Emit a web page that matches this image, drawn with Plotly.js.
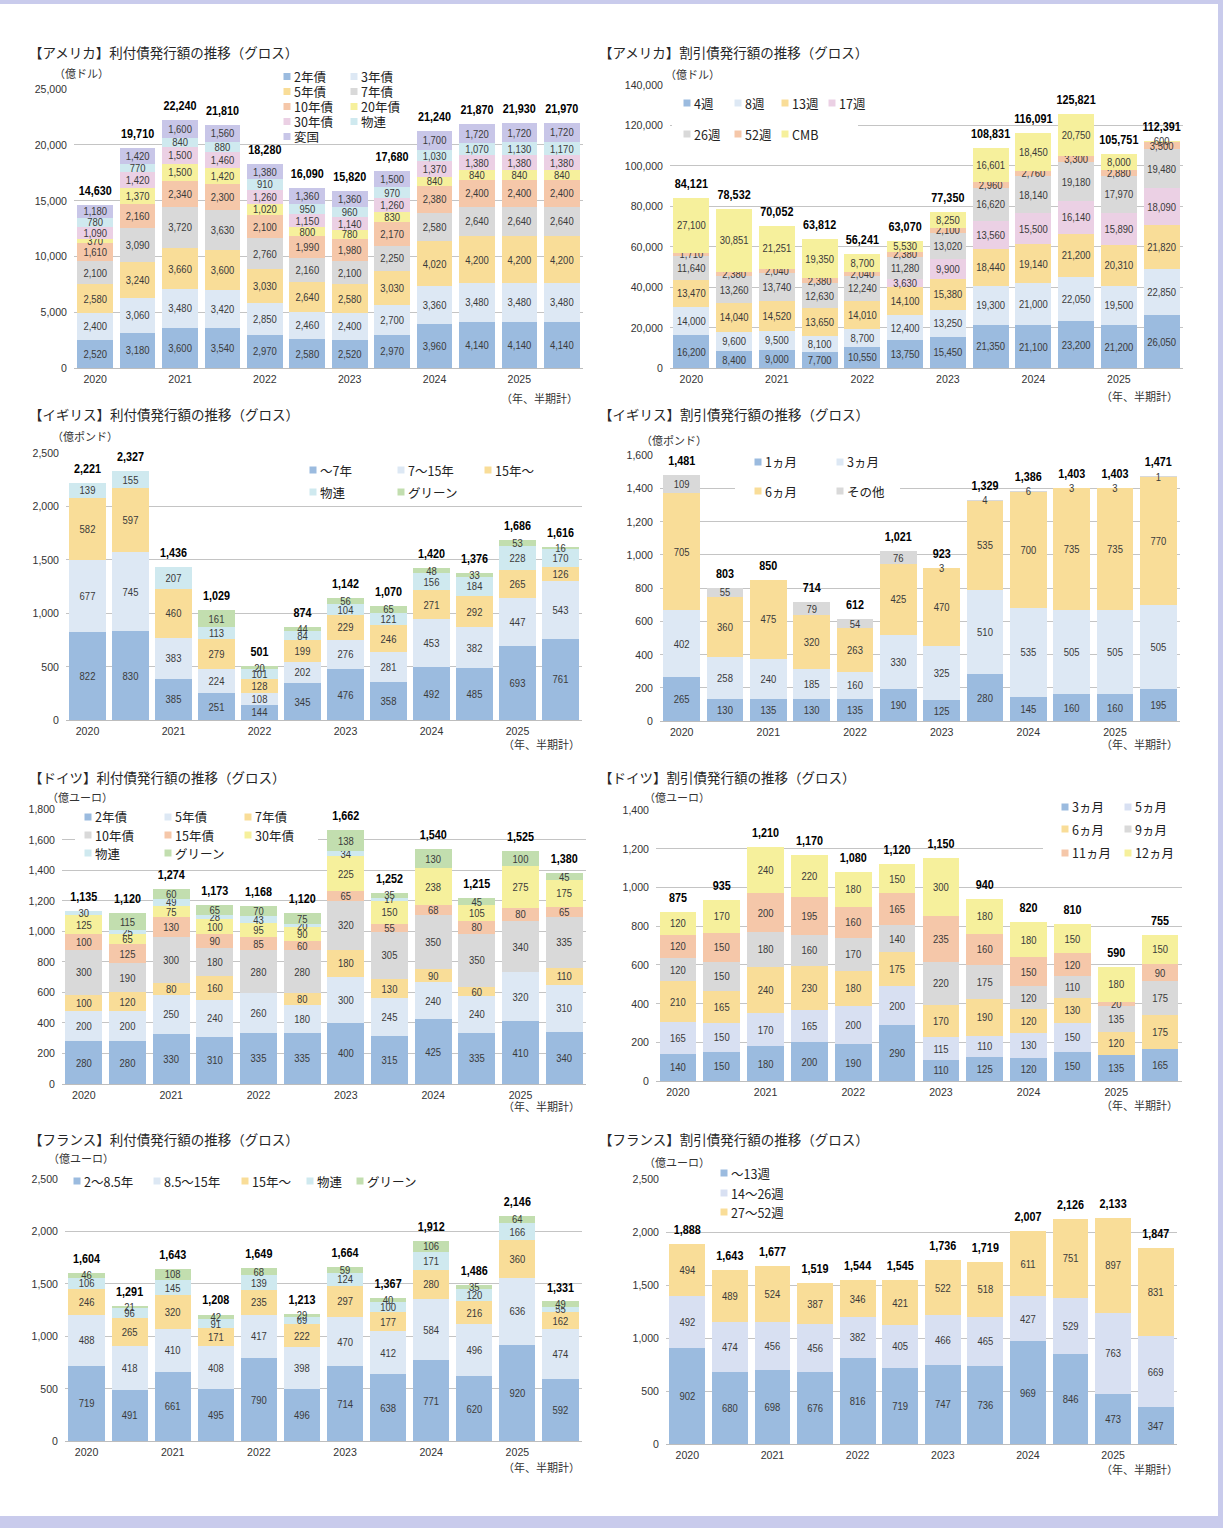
<!DOCTYPE html>
<html><head><meta charset="utf-8">
<script src="https://cdn.plot.ly/plotly-3.0.1.min.js"></script>
<style>
body{margin:0;background:#c9cbec;width:1223px;height:1528px;position:relative;overflow:hidden}
#page{position:absolute;left:0;top:4px;width:1218px;height:1512px;background:#fff}
.pn{position:absolute}
</style></head>
<body><div id="page"></div>
<script>
// ---- categories ----
const periods = ['2020上','2020下','2021上','2021下','2022上','2022下','2023上','2023下','2024上','2024下','2025上','2025下'];
const yearLabels = ['2020','2021','2022','2023','2024','2025'];

// ---- 【アメリカ】利付債 (億ドル) ----
const usCNames = ['2年債','3年債','5年債','7年債','10年債','20年債','30年債','物連','変国'];
const us_c_2y   = [2520,3180,3600,3540,2970,2580,2520,2970,3960,4140,4140,4140];
const us_c_3y   = [2400,3060,3480,3420,2850,2460,2400,2700,3360,3480,3480,3480];
const us_c_5y   = [2580,3240,3660,3600,3030,2640,2580,3030,4020,4200,4200,4200];
const us_c_7y   = [2100,3090,3720,3630,2760,2160,2100,2250,2580,2640,2640,2640];
const us_c_10y  = [1610,2160,2340,2300,2100,1990,1980,2170,2380,2400,2400,2400];
const us_c_20y  = [370,1370,1500,1420,1020,800,780,830,840,840,840,840];
const us_c_30y  = [1090,1420,1500,1460,1260,1150,1140,1260,1370,1380,1380,1380];
const us_c_tips = [780,770,840,880,910,950,960,970,1030,1070,1130,1170];
const us_c_frn  = [1180,1420,1600,1560,1380,1360,1360,1500,1700,1720,1720,1720];
const us_c_total= [14630,19710,22240,21810,18280,16090,15820,17680,21240,21870,21930,21970];

// ---- 【アメリカ】割引債 (億ドル) ----
const usDNames = ['4週','8週','13週','17週','26週','52週','CMB'];
const us_d_4w  = [16200,8400,9000,7700,10550,13750,15450,21350,21100,23200,21200,26050];
const us_d_8w  = [14000,9600,9500,8100,8700,12400,13250,19300,21000,22050,19500,22850];
const us_d_13w = [13470,14040,14520,13650,14010,14100,15380,18440,19140,21200,20310,21820];
const us_d_17w = [null,null,null,null,null,3630,9900,13560,15500,16140,15890,18090];
const us_d_26w = [11640,13260,13740,12630,12240,11280,13020,16620,18140,19180,17970,19480];
const us_d_52w = [1710,2380,2040,2380,2040,2380,2100,2960,2760,3300,2880,3500];
const us_d_cmb = [27100,30851,21251,19350,8700,5530,8250,16601,18450,20750,8000,600];
const us_d_total = [84121,78532,70052,63812,56241,63070,77350,108831,116091,125821,105751,112391];

// ---- 【イギリス】利付債 (億ポンド) ----
const ukCNames = ['～7年','7～15年','15年～','物連','グリーン'];
const uk_c_short = [822,830,385,251,144,345,476,358,492,485,693,761];
const uk_c_mid   = [677,745,383,224,108,202,276,281,453,382,447,543];
const uk_c_long  = [582,597,460,279,128,199,229,246,271,292,265,126];
const uk_c_il    = [139,155,207,113,101,84,104,121,156,184,228,170];
const uk_c_green = [null,null,null,161,20,44,56,65,48,33,53,16];
const uk_c_total = [2221,2327,1436,1029,501,874,1142,1070,1420,1376,1686,1616];

// ---- 【イギリス】割引債 (億ポンド) ----
const ukDNames = ['1ヵ月','3ヵ月','6ヵ月','その他'];
const uk_d_1m    = [265,130,135,130,135,190,125,280,145,160,160,195];
const uk_d_3m    = [402,258,240,185,160,330,325,510,535,505,505,505];
const uk_d_6m    = [705,360,475,320,263,425,470,535,700,735,735,770];
const uk_d_other = [109,55,null,79,54,76,3,4,6,3,3,1];
const uk_d_total = [1481,803,850,714,612,1021,923,1329,1386,1403,1403,1471];

// ---- 【ドイツ】利付債 (億ユーロ) ----
const deCNames = ['2年債','5年債','7年債','10年債','15年債','30年債','物連','グリーン'];
const de_c_2y    = [280,280,330,310,335,335,400,315,425,335,410,340];
const de_c_5y    = [200,200,250,240,260,180,300,245,240,240,320,310];
const de_c_7y    = [100,120,80,160,null,80,180,130,90,60,null,110];
const de_c_10y   = [300,190,300,180,280,280,320,305,350,350,340,335];
const de_c_15y   = [100,125,130,90,85,60,65,55,68,80,80,65];
const de_c_30y   = [125,65,75,100,95,90,225,150,238,105,275,175];
const de_c_il    = [30,25,49,28,43,20,34,17,null,null,null,null];
const de_c_green = [null,115,60,65,70,75,138,35,130,45,100,45];
const de_c_total = [1135,1120,1274,1173,1168,1120,1662,1252,1540,1215,1525,1380];

// ---- 【ドイツ】割引債 (億ユーロ) ----
const deDNames = ['3ヵ月','5ヵ月','6ヵ月','9ヵ月','11ヵ月','12ヵ月'];
const de_d_3m  = [140,150,180,200,190,290,110,125,120,150,135,165];
const de_d_5m  = [165,150,170,165,200,200,115,110,130,150,null,null];
const de_d_6m  = [210,165,240,230,180,175,170,190,120,130,120,175];
const de_d_9m  = [120,150,180,160,170,140,220,175,120,110,135,175];
const de_d_11m = [120,150,200,195,160,165,235,160,150,120,20,90];
const de_d_12m = [120,170,240,220,180,150,300,180,180,150,180,150];
const de_d_total = [875,935,1210,1170,1080,1120,1150,940,820,810,590,755];

// ---- 【フランス】利付債 (億ユーロ) ----
const frCNames = ['2～8.5年','8.5～15年','15年～','物連','グリーン'];
const fr_c_short = [719,491,661,495,790,496,714,638,771,620,920,592];
const fr_c_mid   = [488,418,410,408,417,398,470,412,584,496,636,474];
const fr_c_long  = [246,265,320,171,235,222,297,177,280,216,360,162];
const fr_c_il    = [106,96,145,91,139,69,124,100,171,120,166,55];
const fr_c_green = [46,21,108,42,68,29,59,40,106,35,64,49];
const fr_c_total = [1604,1291,1643,1208,1649,1213,1664,1367,1912,1486,2146,1331];

// ---- 【フランス】割引債 (億ユーロ) ----
const frDNames = ['～13週','14～26週','27～52週'];
const fr_d_13w = [902,680,698,676,816,719,747,736,969,846,473,347];
const fr_d_26w = [492,474,456,456,382,405,466,465,427,529,763,669];
const fr_d_52w = [494,489,524,387,346,421,522,518,611,751,897,831];
const fr_d_total = [1888,1643,1677,1519,1544,1545,1736,1719,2007,2126,2133,1847];

// ---- styles ----
const COL = {blue:'#9bbbdf', lblue:'#dde8f4', orange:'#f9dd98', gray:'#d9d9d9', salmon:'#f5c7a9',
  yellow:'#f6f09c', pink:'#ebd0e4', cyan:'#cfe9ef', lav:'#c8c6e8', green:'#c2deaf', lblue2:'#d8e0f2'};
const FNUM = '"Liberation Sans","Arial","Noto Sans",sans-serif';
const FJP = '"Noto Sans CJK JP","Noto Sans",sans-serif';
const fmt = v => (v === null || v === undefined) ? '' : v.toLocaleString('en-US');

// horizontally condense numeric texts (reference uses a narrow face)
function condense(div) {
  const sets = [['text.bartext', 0.86], ['g.textpoint text', 0.8], ['.xtick text', 0.92], ['.ytick text', 0.92]];
  sets.forEach(([sel, f]) => {
    div.querySelectorAll(sel).forEach(el => {
      const len = el.getComputedTextLength ? el.getComputedTextLength() : 0;
      if (len > 0) {
        el.setAttribute('textLength', (len * f).toFixed(2));
        el.setAttribute('lengthAdjust', 'spacingAndGlyphs');
      }
    });
  });
}

function drawPanel(p) {
  const div = document.createElement('div');
  div.className = 'pn';
  const [bl, bt, bw, bh] = p.box;
  div.style.left = bl + 'px'; div.style.top = bt + 'px';
  div.style.width = bw + 'px'; div.style.height = bh + 'px';
  document.body.appendChild(div);
  const [L, T, R, B] = p.plot;
  const xp = px => (px - L) / (R - L);
  const yp = py => (B - py) / (B - T);

  const traces = p.series.map(s => ({
    type: 'bar', x: periods, y: s.data, name: s.name,
    marker: {color: s.color, line: {width: 0}},
    text: s.data.map(fmt), textposition: 'inside', insidetextanchor: 'middle',
    textangle: 0, constraintext: 'none',
    textfont: {family: FNUM, size: 11, color: '#3a3a3a'},
    hoverinfo: 'skip', showlegend: false
  }));
  traces.push({
    type: 'scatter', mode: 'markers+text', x: periods, y: p.totals, text: p.totals.map(fmt),
    marker: {size: 9, opacity: 0},
    textposition: 'top center', cliponaxis: false,
    textfont: {family: FNUM, size: 13.5, color: '#000', weight: 'bold'},
    hoverinfo: 'skip', showlegend: false
  });

  const ann = [];
  const txt = (t, px, py, anchor, size, color) => ann.push({
    text: t, xref: 'paper', yref: 'paper', x: xp(px), y: yp(py), xanchor: anchor, yanchor: 'middle',
    showarrow: false, font: {family: FJP, size: size, color: color}
  });
  txt(p.title, p.titlePos[0], p.titlePos[1], 'left', 13.5, '#262626');
  txt(p.unit, p.unitPos[0], p.unitPos[1], 'left', 11, '#333');
  txt('（年、半期計）', p.notePos[0], p.notePos[1], 'right', 11, '#333');

  const shapes = [];
  if (p.legBox) {
    const [x0, y0, x1, y1] = p.legBox;
    shapes.push({type: 'rect', xref: 'paper', yref: 'paper', x0: xp(x0), x1: xp(x1), y0: yp(y1), y1: yp(y0),
      fillcolor: '#ffffff', line: {width: 0}, layer: 'above'});
  }
  const lg = p.legend;
  p.series.forEach((s, i) => {
    const cx = lg.cols[i % lg.cols.length];
    const cy = lg.rows[Math.floor(i / lg.cols.length)];
    const h = 3.5;
    shapes.push({type: 'rect', xref: 'paper', yref: 'paper', x0: xp(cx - h), x1: xp(cx + h),
      y0: yp(cy + h), y1: yp(cy - h), fillcolor: s.color, line: {width: 0}, layer: 'above'});
    txt(s.name, cx + 4.5, cy, 'left', 12.5, '#222');
  });

  const layout = {
    width: bw, height: bh,
    margin: {l: L - bl, r: bl + bw - R, t: T - bt, b: bt + bh - B, pad: 0},
    paper_bgcolor: 'rgba(0,0,0,0)', plot_bgcolor: 'rgba(0,0,0,0)',
    barmode: 'stack', bargap: 0.16, showlegend: false,
    xaxis: {type: 'category', categoryorder: 'array', categoryarray: periods,
      range: [-0.5, periods.length - 0.5], autorange: false,
      tickmode: 'array', tickvals: periods.filter((_, i) => i % 2 === 0), ticktext: yearLabels,
      showgrid: false, showline: true, linecolor: '#bdbdbd', linewidth: 1, ticks: '',
      tickfont: {family: FNUM, size: 11.5, color: '#333'}, fixedrange: true},
    yaxis: {range: [0, p.ymax], autorange: false, dtick: p.dtick, tickformat: ',', showgrid: true, gridcolor: '#c4c4c4',
      gridwidth: 1, zeroline: false, showline: false, ticks: '', ticklabelstandoff: 6,
      tickfont: {family: FNUM, size: 11.5, color: '#333'}, fixedrange: true},
    annotations: ann, shapes: shapes
  };
  Plotly.newPlot(div, traces, layout, {staticPlot: true}).then(() => condense(div));
}

const panels = [
  {box: [0, 36, 600, 372], plot: [74, 89, 583, 368], ymax: 25000, dtick: 5000,
   title: '【アメリカ】利付債発行額の推移（グロス）', titlePos: [27, 52], unit: '（億ドル）', unitPos: [52, 73], notePos: [580, 398],
   series: [
     {name: usCNames[0], data: us_c_2y, color: COL.blue},
     {name: usCNames[1], data: us_c_3y, color: COL.lblue},
     {name: usCNames[2], data: us_c_5y, color: COL.orange},
     {name: usCNames[3], data: us_c_7y, color: COL.gray},
     {name: usCNames[4], data: us_c_10y, color: COL.salmon},
     {name: usCNames[5], data: us_c_20y, color: COL.yellow},
     {name: usCNames[6], data: us_c_30y, color: COL.pink},
     {name: usCNames[7], data: us_c_tips, color: COL.cyan},
     {name: usCNames[8], data: us_c_frn, color: COL.lav}],
   totals: us_c_total, legend: {cols: [287, 354], rows: [76.5, 91.5, 106.5, 121.5, 136.5]}, legBox: [273, 68, 413, 144]},
  {box: [600, 36, 615, 372], plot: [670, 85, 1183, 368], ymax: 140000, dtick: 20000,
   title: '【アメリカ】割引債発行額の推移（グロス）', titlePos: [597, 52], unit: '（億ドル）', unitPos: [663, 74], notePos: [1180, 396],
   series: [
     {name: usDNames[0], data: us_d_4w, color: COL.blue},
     {name: usDNames[1], data: us_d_8w, color: COL.lblue},
     {name: usDNames[2], data: us_d_13w, color: COL.orange},
     {name: usDNames[3], data: us_d_17w, color: COL.pink},
     {name: usDNames[4], data: us_d_26w, color: COL.gray},
     {name: usDNames[5], data: us_d_52w, color: COL.salmon},
     {name: usDNames[6], data: us_d_cmb, color: COL.yellow}],
   totals: us_d_total, legend: {cols: [687, 738, 785, 832], rows: [103, 134]}, legBox: [672, 92, 858, 150]},
  {box: [0, 404, 600, 356], plot: [66, 453, 582, 720], ymax: 2500, dtick: 500,
   title: '【イギリス】利付債発行額の推移（グロス）', titlePos: [27, 414], unit: '（億ポンド）', unitPos: [50, 436], notePos: [582, 744],
   series: [
     {name: ukCNames[0], data: uk_c_short, color: COL.blue},
     {name: ukCNames[1], data: uk_c_mid, color: COL.lblue},
     {name: ukCNames[2], data: uk_c_long, color: COL.orange},
     {name: ukCNames[3], data: uk_c_il, color: COL.cyan},
     {name: ukCNames[4], data: uk_c_green, color: COL.green}],
   totals: uk_c_total, legend: {cols: [313, 401, 488], rows: [470, 492]}, legBox: null},
  {box: [600, 404, 615, 356], plot: [660, 455, 1180, 721], ymax: 1600, dtick: 200,
   title: '【イギリス】割引債発行額の推移（グロス）', titlePos: [597, 414], unit: '（億ポンド）', unitPos: [639, 440], notePos: [1180, 744],
   series: [
     {name: ukDNames[0], data: uk_d_1m, color: COL.blue},
     {name: ukDNames[1], data: uk_d_3m, color: COL.lblue},
     {name: ukDNames[2], data: uk_d_6m, color: COL.orange},
     {name: ukDNames[3], data: uk_d_other, color: COL.gray}],
   totals: uk_d_total, legend: {cols: [758, 840], rows: [462, 491]}, legBox: [735, 446, 900, 504]},
  {box: [0, 762, 600, 360], plot: [62, 809, 586, 1084], ymax: 1800, dtick: 200,
   title: '【ドイツ】利付債発行額の推移（グロス）', titlePos: [27, 777], unit: '（億ユーロ）', unitPos: [45, 797], notePos: [582, 1106],
   series: [
     {name: deCNames[0], data: de_c_2y, color: COL.blue},
     {name: deCNames[1], data: de_c_5y, color: COL.lblue},
     {name: deCNames[2], data: de_c_7y, color: COL.orange},
     {name: deCNames[3], data: de_c_10y, color: COL.gray},
     {name: deCNames[4], data: de_c_15y, color: COL.salmon},
     {name: deCNames[5], data: de_c_30y, color: COL.yellow},
     {name: deCNames[6], data: de_c_il, color: COL.cyan},
     {name: deCNames[7], data: de_c_green, color: COL.green}],
   totals: de_c_total, legend: {cols: [88, 168, 248], rows: [817, 835, 853]}, legBox: [75, 800, 318, 861]},
  {box: [600, 762, 615, 360], plot: [656, 810, 1182, 1081], ymax: 1400, dtick: 200,
   title: '【ドイツ】割引債発行額の推移（グロス）', titlePos: [597, 777], unit: '（億ユーロ）', unitPos: [642, 797], notePos: [1180, 1105],
   series: [
     {name: deDNames[0], data: de_d_3m, color: COL.blue},
     {name: deDNames[1], data: de_d_5m, color: COL.lblue2},
     {name: deDNames[2], data: de_d_6m, color: COL.orange},
     {name: deDNames[3], data: de_d_9m, color: COL.gray},
     {name: deDNames[4], data: de_d_11m, color: COL.salmon},
     {name: deDNames[5], data: de_d_12m, color: COL.yellow}],
   totals: de_d_total, legend: {cols: [1065, 1128], rows: [807, 829, 853]}, legBox: [1043, 795, 1186, 866]},
  {box: [0, 1124, 600, 372], plot: [65, 1179, 582, 1441], ymax: 2500, dtick: 500,
   title: '【フランス】利付債発行額の推移（グロス）', titlePos: [27, 1139], unit: '（億ユーロ）', unitPos: [46, 1158], notePos: [582, 1467],
   series: [
     {name: frCNames[0], data: fr_c_short, color: COL.blue},
     {name: frCNames[1], data: fr_c_mid, color: COL.lblue},
     {name: frCNames[2], data: fr_c_long, color: COL.orange},
     {name: frCNames[3], data: fr_c_il, color: COL.cyan},
     {name: frCNames[4], data: fr_c_green, color: COL.green}],
   totals: fr_c_total, legend: {cols: [77, 157, 245, 310, 360], rows: [1181]}, legBox: [60, 1171, 440, 1191]},
  {box: [600, 1124, 615, 372], plot: [666, 1179, 1177, 1444], ymax: 2500, dtick: 500,
   title: '【フランス】割引債発行額の推移（グロス）', titlePos: [597, 1139], unit: '（億ユーロ）', unitPos: [642, 1162], notePos: [1180, 1469],
   series: [
     {name: frDNames[0], data: fr_d_13w, color: COL.blue},
     {name: frDNames[1], data: fr_d_26w, color: COL.lblue2},
     {name: frDNames[2], data: fr_d_52w, color: COL.orange}],
   totals: fr_d_total, legend: {cols: [724], rows: [1173, 1193, 1212]}, legBox: [711, 1163, 790, 1222]}
];
panels.forEach(drawPanel);
</script>
</body></html>
